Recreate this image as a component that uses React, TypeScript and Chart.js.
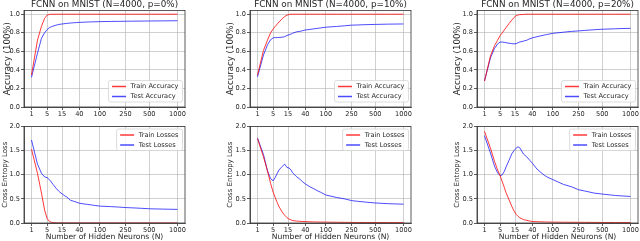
import React, { useEffect, useRef } from "react";
import { Chart, registerables } from "chart.js";
Chart.register(...registerables);

// Number of hidden neurons (x values)
const N = [1, 2, 3, 4, 5, 6, 7, 8, 10, 12, 14, 16, 18, 20, 25, 30, 35, 40, 50, 60, 70, 80, 100, 150, 200, 250, 300, 400, 500, 700, 1000];
const TICK_N = [1, 5, 15, 40, 100, 250, 500, 1000];
const TICK_LABELS = ["1", "5", "15", "40", "100", "250", "500", "1000"];
const ACC_TICKS = [0, 0.2, 0.4, 0.6, 0.8, 1.0];
const LOSS_TICKS = [0, 0.5, 1.0, 1.5, 2.0];
const TITLES = ["FCNN on MNIST (N=4000, p=0%)", "FCNN on MNIST (N=4000, p=10%)", "FCNN on MNIST (N=4000, p=20%)"];

// p = 0%
const P0_TRAIN_ACC = [0.345, 0.72, 0.87, 0.955, 0.99, 0.998, 1, 1, 1, 1, 1, 1, 1, 1, 1, 1, 1, 1, 1, 1, 1, 1, 1, 1, 1, 1, 1, 1, 1, 1, 1];
const P0_TEST_ACC = [0.32, 0.58, 0.74, 0.80, 0.835, 0.855, 0.865, 0.872, 0.882, 0.889, 0.893, 0.896, 0.899, 0.901, 0.905, 0.908, 0.91, 0.912, 0.914, 0.916, 0.917, 0.918, 0.92, 0.922, 0.923, 0.924, 0.925, 0.926, 0.927, 0.928, 0.93];
const P0_TRAIN_LOSS = [1.53, 1.03, 0.62, 0.27, 0.09, 0.035, 0.015, 0.008, 0.004, 0.003, 0.003, 0.002, 0.002, 0.002, 0.002, 0.002, 0.002, 0.002, 0.002, 0.002, 0.002, 0.002, 0.002, 0.002, 0.002, 0.002, 0.002, 0.002, 0.002, 0.002, 0.002];
const P0_TEST_LOSS = [1.72, 1.22, 1.03, 0.955, 0.94, 0.90, 0.85, 0.80, 0.72, 0.66, 0.62, 0.59, 0.56, 0.54, 0.47, 0.45, 0.43, 0.41, 0.395, 0.385, 0.375, 0.365, 0.35, 0.34, 0.33, 0.32, 0.315, 0.305, 0.295, 0.288, 0.282];

// p = 10%
const P10_TRAIN_ACC = [0.343, 0.61, 0.72, 0.80, 0.84, 0.87, 0.895, 0.915, 0.95, 0.975, 0.99, 0.997, 1, 1, 1, 1, 1, 1, 1, 1, 1, 1, 1, 1, 1, 1, 1, 1, 1, 1, 1];
const P10_TEST_ACC = [0.325, 0.56, 0.67, 0.725, 0.745, 0.748, 0.748, 0.75, 0.752, 0.758, 0.772, 0.778, 0.785, 0.795, 0.81, 0.815, 0.823, 0.83, 0.836, 0.842, 0.847, 0.852, 0.86, 0.868, 0.875, 0.882, 0.884, 0.888, 0.89, 0.893, 0.895];
const P10_TRAIN_LOSS = [1.75, 1.37, 1.08, 0.82, 0.64, 0.52, 0.42, 0.34, 0.23, 0.16, 0.11, 0.08, 0.065, 0.05, 0.04, 0.035, 0.03, 0.03, 0.025, 0.022, 0.02, 0.02, 0.018, 0.015, 0.013, 0.012, 0.011, 0.01, 0.01, 0.009, 0.008];
const P10_TEST_LOSS = [1.76, 1.42, 1.08, 0.92, 0.875, 0.95, 1.03, 1.10, 1.17, 1.22, 1.15, 1.14, 1.10, 1.04, 0.96, 0.91, 0.85, 0.81, 0.75, 0.71, 0.67, 0.64, 0.58, 0.53, 0.50, 0.465, 0.45, 0.43, 0.415, 0.40, 0.39];

// p = 20%
const P20_TRAIN_ACC = [0.28, 0.55, 0.66, 0.72, 0.77, 0.80, 0.83, 0.855, 0.90, 0.935, 0.965, 0.985, 0.992, 0.995, 0.998, 1, 1, 1, 1, 1, 1, 1, 1, 1, 1, 1, 1, 1, 1, 1, 1];
const P20_TEST_ACC = [0.28, 0.53, 0.63, 0.68, 0.70, 0.70, 0.697, 0.693, 0.687, 0.683, 0.68, 0.683, 0.692, 0.70, 0.71, 0.72, 0.735, 0.745, 0.757, 0.767, 0.775, 0.782, 0.794, 0.806, 0.815, 0.82, 0.825, 0.833, 0.838, 0.843, 0.848];
const P20_TRAIN_LOSS = [1.90, 1.55, 1.28, 1.10, 0.98, 0.85, 0.74, 0.63, 0.48, 0.35, 0.25, 0.18, 0.14, 0.11, 0.07, 0.055, 0.04, 0.032, 0.027, 0.024, 0.022, 0.02, 0.018, 0.016, 0.015, 0.014, 0.013, 0.012, 0.011, 0.01, 0.01];
const P20_TEST_LOSS = [1.81, 1.45, 1.18, 1.04, 0.98, 1.00, 1.07, 1.16, 1.30, 1.43, 1.50, 1.55, 1.58, 1.56, 1.43, 1.37, 1.30, 1.24, 1.12, 1.05, 0.99, 0.95, 0.90, 0.80, 0.75, 0.69, 0.665, 0.62, 0.60, 0.57, 0.55];

const FONT = "'DejaVu Sans', 'Liberation Sans', sans-serif";
const TEXT = "#262626";
const RED = "rgba(255,0,0,0.78)";
const BLUE = "rgba(0,0,255,0.7)";
const GRID = "rgba(176,176,176,0.75)";
const SPINE = "#333333";

const POW = 0.25;
const tx = (n: number) => Math.pow(n, POW);
const XMIN = tx(1) - 7.5 / 31.58;
const XMAX = tx(1000) + 7.5 / 31.58;

const COL_LEFT = [24, 250, 477];
const PLOT_W = 161;
const Y_AXIS_W = 24;
const ROWS = [
  { canvasTop: 0, canvasH: 120, top: 10.5, bottom: 107 },
  { canvasTop: 120, canvasH: 121, top: 126.5, bottom: 223 },
];
const YLABEL_X = [
  [8, 5, 5],
  [5.5, 4.5, 4.5],
];

type PanelProps = {
  row: number;
  col: number;
  train: number[];
  test: number[];
};

const decor = {
  id: "decor",
  afterDraw(chart: any, _args: any, opts: any) {
    const { ctx, chartArea: a } = chart;
    ctx.save();
    // frame
    ctx.strokeStyle = SPINE;
    ctx.lineWidth = 0.8;
    ctx.strokeRect(a.left, a.top, a.right - a.left, a.bottom - a.top);
    const cx = (a.left + a.right) / 2;
    ctx.fillStyle = TEXT;
    ctx.textAlign = "center";
    ctx.textBaseline = "middle";
    if (opts.title) {
      ctx.font = `8.8px ${FONT}`;
      ctx.fillText(opts.title, cx, 4.5);
    }
    if (opts.xLabel) {
      ctx.font = `7.6px ${FONT}`;
      ctx.fillText(opts.xLabel, cx, opts.xLabelY);
    }
    // y label
    ctx.save();
    ctx.translate(opts.yLabelX, (a.top + a.bottom) / 2);
    ctx.rotate(-Math.PI / 2);
    ctx.font = `${opts.yLabelSize}px ${FONT}`;
    ctx.fillText(opts.yLabel, 0, 0);
    ctx.restore();
    // legend
    const ds = chart.data.datasets;
    ctx.font = `6.6px ${FONT}`;
    let tw = 0;
    ds.forEach((d: any) => (tw = Math.max(tw, ctx.measureText(d.label).width)));
    const w = 22 + tw + 4;
    const h = 21.5;
    const bx = a.right - 2.5 - w;
    const by = opts.legendPos === "lower" ? a.bottom - 5 - h : a.top + 2.5;
    ctx.beginPath();
    (ctx as any).roundRect(bx, by, w, h, 2);
    ctx.fillStyle = "rgba(255,255,255,0.85)";
    ctx.fill();
    ctx.strokeStyle = "#d4d4d4";
    ctx.lineWidth = 0.8;
    ctx.stroke();
    ds.forEach((d: any, i: number) => {
      const yy = by + 6 + i * 10;
      ctx.strokeStyle = d.borderColor;
      ctx.lineWidth = 1.5;
      ctx.beginPath();
      ctx.moveTo(bx + 3.5, yy);
      ctx.lineTo(bx + 17.5, yy);
      ctx.stroke();
      ctx.fillStyle = TEXT;
      ctx.textAlign = "left";
      ctx.fillText(d.label, bx + 22, yy);
    });
    ctx.restore();
  },
};

function Panel({ row, col, train, test }: PanelProps) {
  const ref = useRef<HTMLCanvasElement | null>(null);
  const R = ROWS[row];
  const left = COL_LEFT[col] - Y_AXIS_W;
  const width = Y_AXIS_W + PLOT_W + 2;
  const isAcc = row === 0;

  useEffect(() => {
    if (!ref.current) return;
    const toXY = (arr: number[]) => N.map((n, i) => ({ x: tx(n), y: arr[i] }));
    const tickFont = { family: FONT, size: 6.6 };
    const chart = new Chart(ref.current, {
      type: "line",
      data: {
        datasets: [
          {
            label: isAcc ? "Train Accuracy" : "Train Losses",
            data: toXY(train),
            borderColor: RED,
            borderWidth: 1,
            pointRadius: 0,
            tension: 0,
          },
          {
            label: isAcc ? "Test Accuracy" : "Test Losses",
            data: toXY(test),
            borderColor: BLUE,
            borderWidth: 1,
            pointRadius: 0,
            tension: 0,
          },
        ],
      },
      options: {
        animation: false,
        responsive: false,
        devicePixelRatio: 1,
        events: [],
        layout: { padding: { left: 0, right: 2, top: R.top - R.canvasTop, bottom: 0 } },
        plugins: {
          legend: { display: false },
          tooltip: { enabled: false },
          decor: {
            title: isAcc ? TITLES[col] : null,
            xLabel: isAcc ? null : "Number of Hidden Neurons (N)",
            xLabelY: 116.7,
            yLabel: isAcc ? "Accuracy (100%)" : "Cross Entropy Loss",
            yLabelX: YLABEL_X[row][col],
            yLabelSize: isAcc ? 8.6 : 7,
            legendPos: isAcc ? "lower" : "upper",
          },
        } as any,
        scales: {
          x: {
            type: "linear",
            min: XMIN,
            max: XMAX,
            afterBuildTicks: (s: any) => {
              s.ticks = TICK_N.map((n) => ({ value: tx(n) }));
            },
            afterFit: (s: any) => {
              s.height = R.canvasH - (R.bottom - R.canvasTop);
            },
            ticks: {
              autoSkip: false,
              maxRotation: 0,
              minRotation: 0,
              padding: 0,
              color: TEXT,
              font: tickFont,
              callback: (_v: any, i: number) => TICK_LABELS[i],
            },
            grid: { color: GRID, lineWidth: 0.8, tickColor: SPINE, tickLength: 3 },
            border: { display: true, color: SPINE, width: 0.8 },
          },
          y: {
            type: "linear",
            min: 0,
            max: isAcc ? 1.04 : 2.0,
            afterBuildTicks: (s: any) => {
              s.ticks = (isAcc ? ACC_TICKS : LOSS_TICKS).map((v) => ({ value: v }));
            },
            afterFit: (s: any) => {
              s.width = Y_AXIS_W;
            },
            ticks: {
              padding: 1,
              color: TEXT,
              font: tickFont,
              callback: (v: any) => Number(v).toFixed(1),
            },
            grid: { color: GRID, lineWidth: 0.8, tickColor: SPINE, tickLength: 3 },
            border: { display: true, color: SPINE, width: 0.8 },
          },
        },
      },
      plugins: [decor as any],
    });
    return () => chart.destroy();
  }, []);

  return (
    <canvas
      ref={ref}
      width={width}
      height={R.canvasH}
      style={{ position: "absolute", left, top: R.canvasTop, width, height: R.canvasH }}
    />
  );
}

export default function App() {
  const acc = [
    [P0_TRAIN_ACC, P0_TEST_ACC],
    [P10_TRAIN_ACC, P10_TEST_ACC],
    [P20_TRAIN_ACC, P20_TEST_ACC],
  ];
  const loss = [
    [P0_TRAIN_LOSS, P0_TEST_LOSS],
    [P10_TRAIN_LOSS, P10_TEST_LOSS],
    [P20_TRAIN_LOSS, P20_TEST_LOSS],
  ];
  return (
    <div style={{ position: "absolute", left: 0, top: 0, width: 640, height: 241, background: "#fff", overflow: "hidden" }}>
      {acc.map((s, c) => (
        <Panel key={"a" + c} row={0} col={c} train={s[0]} test={s[1]} />
      ))}
      {loss.map((s, c) => (
        <Panel key={"l" + c} row={1} col={c} train={s[0]} test={s[1]} />
      ))}
    </div>
  );
}
